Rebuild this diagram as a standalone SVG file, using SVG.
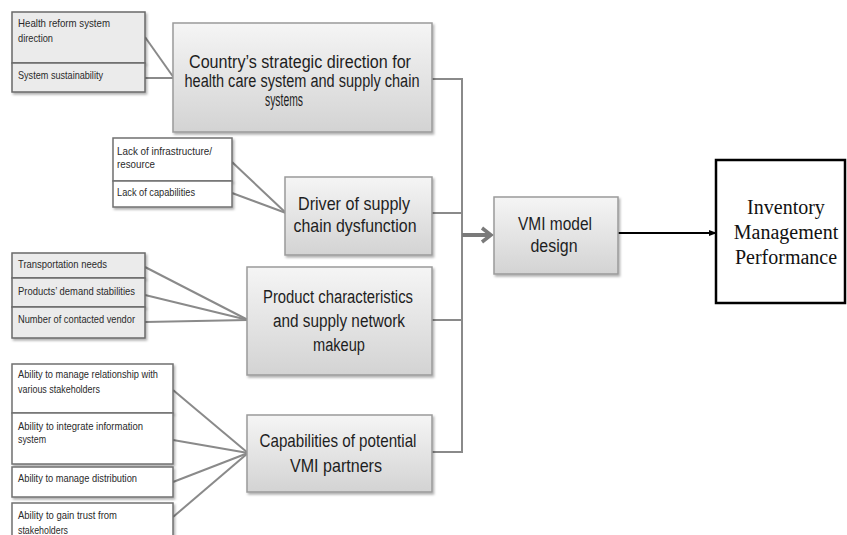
<svg xmlns="http://www.w3.org/2000/svg" width="847" height="535" viewBox="0 0 847 535">
<style>
.main{fill:url(#g);stroke:#9a9a9a;stroke-width:1.5;filter:url(#sh)}
.sg{fill:#ebebeb;stroke:#6a6a6a;stroke-width:1.5;filter:url(#sh)}
.sw{fill:#ffffff;stroke:#707070;stroke-width:1.5;filter:url(#sh)}
.mt{font-family:"Liberation Sans",Arial,sans-serif;font-size:18px;fill:#1e1e1e;text-anchor:middle}
.st{font-family:"Liberation Sans",Arial,sans-serif;font-size:10.5px;fill:#2a2a2a}
.it{font-family:"Liberation Serif","Times New Roman",serif;font-size:20px;fill:#111;text-anchor:middle}
.c{stroke:#8a8a8a;stroke-width:2;fill:none}
</style>
<defs>
<linearGradient id="g" x1="0" y1="0" x2="0" y2="1">
<stop offset="0" stop-color="#f5f5f5"/>
<stop offset="1" stop-color="#d3d3d3"/>
</linearGradient>
<filter id="sh" x="-10%" y="-10%" width="130%" height="130%">
<feDropShadow dx="1.5" dy="2" stdDeviation="1.2" flood-color="#000" flood-opacity="0.3"/>
</filter>
<marker id="ab" markerWidth="8" markerHeight="8" refX="7" refY="4" orient="auto" markerUnits="userSpaceOnUse">
<path d="M0,1 L8,4 L0,7 Z" fill="#000"/>
</marker>
</defs>
<rect width="847" height="535" fill="#fff"/>

<g id="connectors">
<line class="c" x1="145" y1="37" x2="174" y2="78"/>
<line class="c" x1="145" y1="78" x2="174" y2="78"/>
<line class="c" x1="232" y1="162" x2="286" y2="213"/>
<line class="c" x1="232" y1="193" x2="286" y2="213"/>
<line class="c" x1="145" y1="267" x2="248" y2="320"/>
<line class="c" x1="145" y1="295" x2="248" y2="320"/>
<line class="c" x1="145" y1="322" x2="248" y2="320"/>
<line class="c" x1="173" y1="390" x2="248" y2="453"/>
<line class="c" x1="173" y1="440" x2="248" y2="453"/>
<line class="c" x1="173" y1="482" x2="248" y2="453"/>
<line class="c" x1="173" y1="517" x2="248" y2="453"/>
<polyline class="c" points="432,79 462,79 462,452 432,452"/>
<line class="c" x1="432" y1="213" x2="462" y2="213"/>
<line class="c" x1="432" y1="320" x2="462" y2="320"/>
<line x1="462" y1="235" x2="490" y2="235" stroke="#7a7a7a" stroke-width="4"/>
<polyline points="482,228 491,235 482,242" fill="none" stroke="#7a7a7a" stroke-width="3.5"/>
<line x1="618" y1="233" x2="716" y2="233" stroke="#000" stroke-width="2" marker-end="url(#ab)"/>
</g>

<g id="n-health">
<rect class="sg" x="12" y="12" width="133" height="51"/>
<text class="st" x="18" y="27" textLength="92" lengthAdjust="spacingAndGlyphs">Health reform system</text>
<text class="st" x="18" y="42" textLength="35" lengthAdjust="spacingAndGlyphs">direction</text>
</g>
<g id="n-sustain">
<rect class="sg" x="12" y="63" width="133" height="29"/>
<text class="st" x="18" y="79" textLength="85" lengthAdjust="spacingAndGlyphs">System sustainability</text>
</g>
<g id="n-country">
<rect class="main" x="173" y="23" width="259" height="109"/>
<text class="mt" x="300" y="68" textLength="222" lengthAdjust="spacingAndGlyphs">Country’s strategic direction for</text>
<text class="mt" x="302" y="87" textLength="235" lengthAdjust="spacingAndGlyphs">health care system and supply chain</text>
<text class="mt" x="284" y="106" textLength="38" lengthAdjust="spacingAndGlyphs">systems</text>
</g>

<g id="n-infra">
<rect class="sw" x="113" y="138" width="119" height="43"/>
<text class="st" x="117" y="155" textLength="95" lengthAdjust="spacingAndGlyphs">Lack of infrastructure/</text>
<text class="st" x="117" y="168" textLength="38" lengthAdjust="spacingAndGlyphs">resource</text>
</g>
<g id="n-lackcap">
<rect class="sw" x="113" y="181" width="119" height="26"/>
<text class="st" x="117" y="196" textLength="78" lengthAdjust="spacingAndGlyphs">Lack of capabilities</text>
</g>
<g id="n-driver">
<rect class="main" x="285" y="177" width="147" height="78"/>
<text class="mt" x="354" y="210" style="font-size:19px" textLength="112" lengthAdjust="spacingAndGlyphs">Driver of supply</text>
<text class="mt" x="355" y="232" style="font-size:19px" textLength="123" lengthAdjust="spacingAndGlyphs">chain dysfunction</text>
</g>

<g id="n-transport">
<rect class="sg" x="12" y="253" width="133" height="25"/>
<text class="st" x="18" y="268" textLength="89" lengthAdjust="spacingAndGlyphs">Transportation  needs</text>
</g>
<g id="n-demand">
<rect class="sg" x="12" y="278" width="133" height="29"/>
<text class="st" x="18" y="295" textLength="117" lengthAdjust="spacingAndGlyphs">Products’  demand stabilities</text>
</g>
<g id="n-vendor">
<rect class="sg" x="12" y="307" width="133" height="31"/>
<text class="st" x="18" y="323" textLength="117" lengthAdjust="spacingAndGlyphs">Number of contacted vendor</text>
</g>
<g id="n-product">
<rect class="main" x="247" y="267" width="185" height="108"/>
<text class="mt" x="338" y="303" textLength="150" lengthAdjust="spacingAndGlyphs">Product characteristics</text>
<text class="mt" x="339" y="327" textLength="132" lengthAdjust="spacingAndGlyphs">and supply network</text>
<text class="mt" x="339" y="351" textLength="52" lengthAdjust="spacingAndGlyphs">makeup</text>
</g>

<g id="n-relationship">
<rect class="sw" x="12" y="364" width="161" height="49"/>
<text class="st" x="18" y="378" textLength="140" lengthAdjust="spacingAndGlyphs">Ability to manage relationship with</text>
<text class="st" x="18" y="393" textLength="82" lengthAdjust="spacingAndGlyphs">various stakeholders</text>
</g>
<g id="n-integrate">
<rect class="sw" x="12" y="413" width="161" height="51"/>
<text class="st" x="18" y="430" textLength="125" lengthAdjust="spacingAndGlyphs">Ability to integrate information</text>
<text class="st" x="18" y="443" textLength="28" lengthAdjust="spacingAndGlyphs">system</text>
</g>
<g id="n-distribution">
<rect class="sw" x="12" y="467" width="161" height="30"/>
<text class="st" x="18" y="482" textLength="119" lengthAdjust="spacingAndGlyphs">Ability to manage distribution</text>
</g>
<g id="n-trust">
<rect class="sw" x="12" y="503" width="161" height="40"/>
<text class="st" x="18" y="519" textLength="99" lengthAdjust="spacingAndGlyphs">Ability to gain trust from</text>
<text class="st" x="18" y="534" textLength="50" lengthAdjust="spacingAndGlyphs">stakeholders</text>
</g>
<g id="n-capabilities">
<rect class="main" x="247" y="415" width="185" height="77"/>
<text class="mt" x="338" y="447" style="font-size:19px" textLength="157" lengthAdjust="spacingAndGlyphs">Capabilities of potential</text>
<text class="mt" x="336" y="472" style="font-size:19px" textLength="92" lengthAdjust="spacingAndGlyphs">VMI partners</text>
</g>

<g id="n-vmi">
<rect class="main" x="494" y="197" width="124" height="77"/>
<text class="mt" x="555" y="230" textLength="74" lengthAdjust="spacingAndGlyphs">VMI model</text>
<text class="mt" x="554" y="252" textLength="47" lengthAdjust="spacingAndGlyphs">design</text>
</g>

<g id="n-inventory">
<rect x="716" y="160" width="129" height="143" fill="#fff" stroke="#000" stroke-width="2.5"/>
<text class="it" x="786" y="214">Inventory</text>
<text class="it" x="786" y="239">Management</text>
<text class="it" x="786" y="264">Performance</text>
</g>
</svg>
